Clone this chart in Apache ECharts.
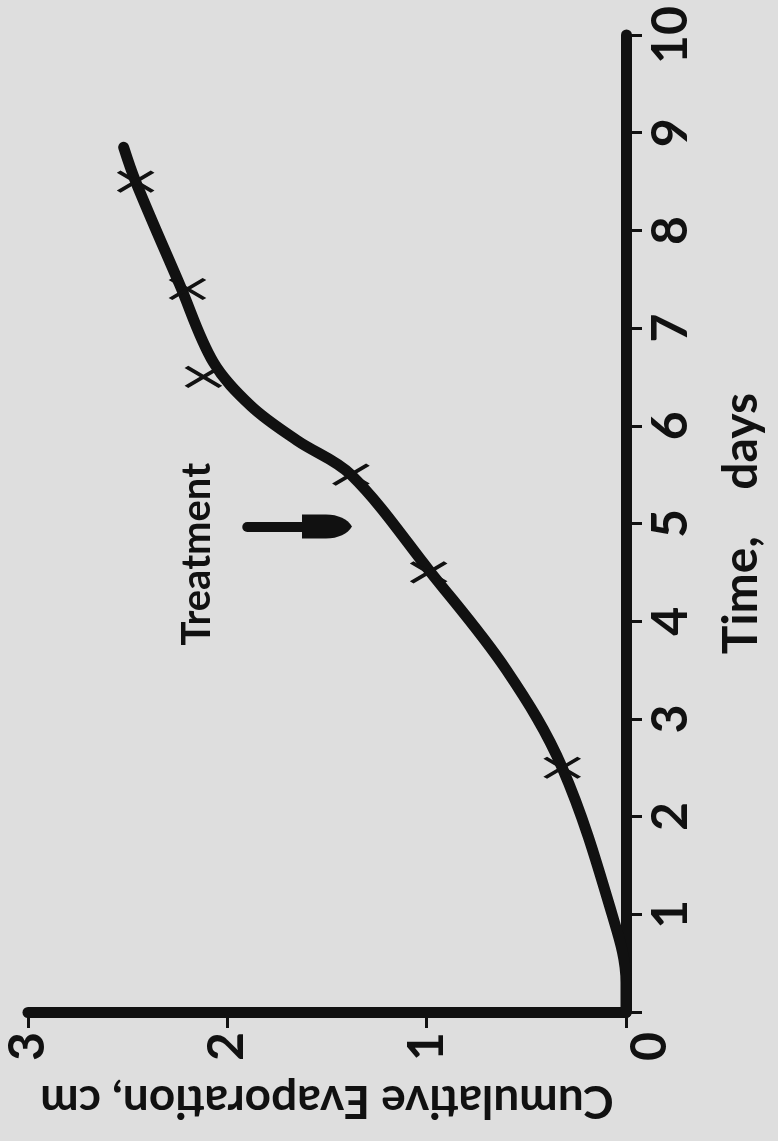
<!DOCTYPE html>
<html>
<head>
<meta charset="utf-8">
<script src="https://cdn.jsdelivr.net/npm/echarts@6/dist/echarts.min.js"></script>
<style>
  html, body { margin: 0; padding: 0; background: #dedede; }
  #chart { width: 778px; height: 1141px; }
</style>
</head>
<body>
<div id="chart"></div>
<script>
// chart is printed turned on its side: time runs up the page, evaporation runs leftwards
const timeTicks = [0, 1, 2, 3, 4, 5, 6, 7, 8, 9, 10];
const evapTicks = [0, 1, 2, 3];

// measured points (crosses)
const pointTime = [2.5, 4.5, 5.5, 6.5, 7.4, 8.5];
const pointEvap = [0.32, 0.99, 1.38, 2.12, 2.2, 2.46];

// drawn fitted curve
const curveTime = [0, 0.3, 1, 2.5, 3.5, 4.5, 5.5, 5.85, 6.2, 6.65, 7.45, 8.5, 8.85];
const curveEvap = [0, 0, 0.07, 0.32, 0.6, 0.98, 1.38, 1.65, 1.88, 2.07, 2.24, 2.46, 2.52];

// "Treatment" note and its arrow
const noteText = 'Treatment';
const noteTime = 4.68;
const noteEvap = 2.15;
const arrowTime = 4.97;
const arrowEvap = [1.9, 1.5];

const ink = '#111';
const font = 'Lato';

const myChart = echarts.init(document.getElementById('chart'));

const option = {
    backgroundColor: '#dedede',
    animation: false,
    grid: { left: 28, right: 152, top: 35, bottom: 129 },
    xAxis: {
        type: 'value',
        min: evapTicks[0],
        max: evapTicks[evapTicks.length - 1],
        interval: 1,
        inverse: true,
        position: 'bottom',
        name: 'Cumulative Evaporation, cm',
        nameLocation: 'middle',
        nameGap: 66,
        nameRotate: 180,
        nameTextStyle: { fontFamily: font, fontSize: 46, fontWeight: 'bold', color: ink },
        axisLine: { lineStyle: { color: ink, width: 11, cap: 'round' } },
        axisTick: { length: 16, lineStyle: { color: ink, width: 3 } },
        axisLabel: {
            rotate: 90,
            margin: 20,
            fontFamily: font, fontSize: 50, fontWeight: 'bold', color: ink,
            // the shared origin label sits a little off the corner
            formatter: v => (v === 0 ? '{z|0}' : String(v)),
            rich: {
                z: { padding: [48, 0, 0, 0], fontFamily: font, fontSize: 50, fontWeight: 'bold', color: ink }
            }
        },
        splitLine: { show: false }
    },
    yAxis: {
        type: 'value',
        min: timeTicks[0],
        max: timeTicks[timeTicks.length - 1],
        interval: 1,
        position: 'right',
        name: 'Time,    days',
        nameLocation: 'middle',
        nameGap: 92,
        nameRotate: 90,
        nameTextStyle: { fontFamily: font, fontSize: 48, fontWeight: 'bold', color: ink },
        axisLine: { lineStyle: { color: ink, width: 11, cap: 'round' } },
        axisTick: { length: 16, lineStyle: { color: ink, width: 3 } },
        axisLabel: {
            rotate: 90,
            margin: 20,
            fontFamily: font, fontSize: 50, fontWeight: 'bold', color: ink,
            formatter: v => (v === 0 ? '' : String(v))
        },
        splitLine: { show: false }
    },
    series: [
        {
            type: 'line',
            data: curveTime.map((t, i) => [curveEvap[i], t]),
            smooth: 0.35,
            showSymbol: false,
            lineStyle: { color: ink, width: 11, cap: 'round', join: 'round' },
            silent: true,
            z: 3
        },
        {
            type: 'scatter',
            data: pointTime.map((t, i) => [pointEvap[i], t]),
            symbol: 'path://M0,0 L10,10 M0,10 L10,0',
            symbolSize: [34, 20],
            itemStyle: { color: 'transparent', borderColor: ink, borderWidth: 4, opacity: 1 },
            silent: true,
            z: 4
        },
        {
            type: 'scatter',
            data: [[noteEvap, noteTime]],
            symbolSize: 1,
            itemStyle: { color: 'transparent', opacity: 1 },
            label: {
                show: true,
                position: [0, 0],
                align: 'center',
                verticalAlign: 'middle',
                rotate: 90,
                formatter: noteText,
                opacity: 1,
                fontFamily: font, fontSize: 40, fontWeight: 'bold', color: ink
            },
            markLine: {
                silent: true,
                symbol: ['none', 'path://M10,0 C16,4 20,14 20,26 L20,50 L0,50 L0,26 C0,14 4,4 10,0 Z'],
                symbolSize: [24, 50],
                label: { show: false },
                lineStyle: { color: ink, width: 10, type: 'solid', cap: 'round', opacity: 1 },
                itemStyle: { color: ink },
                data: [[
                    { coord: [arrowEvap[0], arrowTime] },
                    { coord: [arrowEvap[1], arrowTime] }
                ]]
            },
            silent: true
        }
    ]
};

myChart.setOption(option);
</script>
</body>
</html>
